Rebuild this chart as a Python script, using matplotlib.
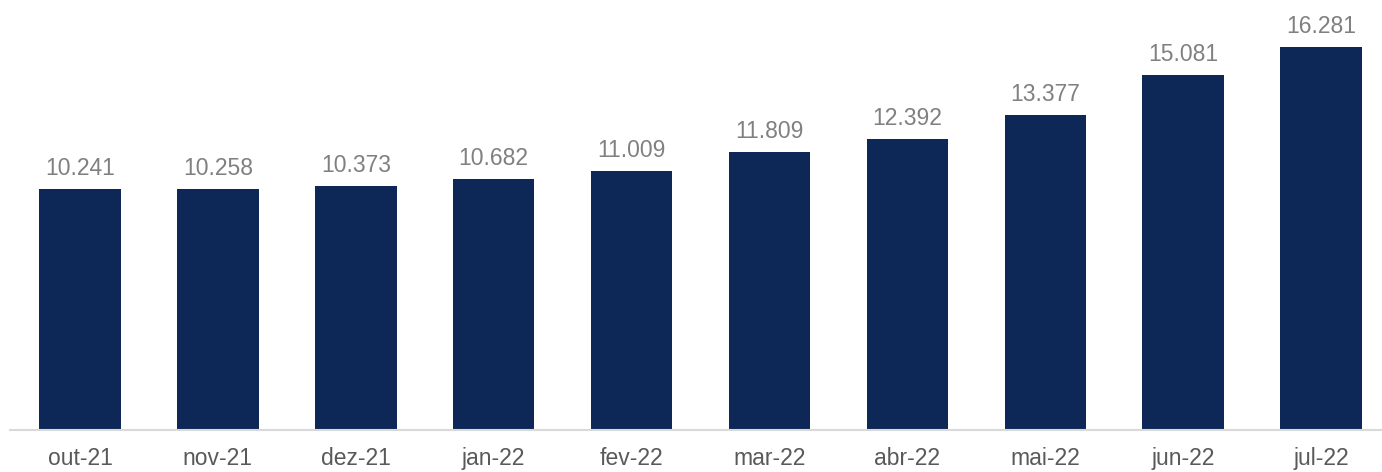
import matplotlib.pyplot as plt

months = ["out-21", "nov-21", "dez-21", "jan-22", "fev-22",
          "mar-22", "abr-22", "mai-22", "jun-22", "jul-22"]
values = [10.241, 10.258, 10.373, 10.682, 11.009,
          11.809, 12.392, 13.377, 15.081, 16.281]

plt.rcParams['font.family'] = ['Liberation Sans', 'DejaVu Sans']

fig = plt.figure(figsize=(13.82, 4.72), dpi=100)
ax = fig.add_axes([10 / 1382, 42 / 472, 1 - 10 / 1382, 430 / 472])

x = range(len(months))
bars = ax.bar(x, values, width=0.59, color='#0D2857', zorder=2)

for xi, v in zip(x, values):
    ax.text(xi, v + 0.38, f"{v:.3f}", ha='center', va='bottom',
            fontsize=16.5, color='#808080')

ax.set_xlim(-0.508, 9.442)
ax.set_ylim(0, 18.28)
ax.set_xticks(list(x))
ax.set_xticklabels(months, fontsize=16.5, color='#595959')
ax.tick_params(axis='x', length=0, pad=12)
ax.set_yticks([])
for side in ['top', 'right', 'left']:
    ax.spines[side].set_visible(False)
ax.spines['bottom'].set_color('#d9d9d9')
ax.spines['bottom'].set_linewidth(1.5)

fig.savefig('out.png', dpi=100)
